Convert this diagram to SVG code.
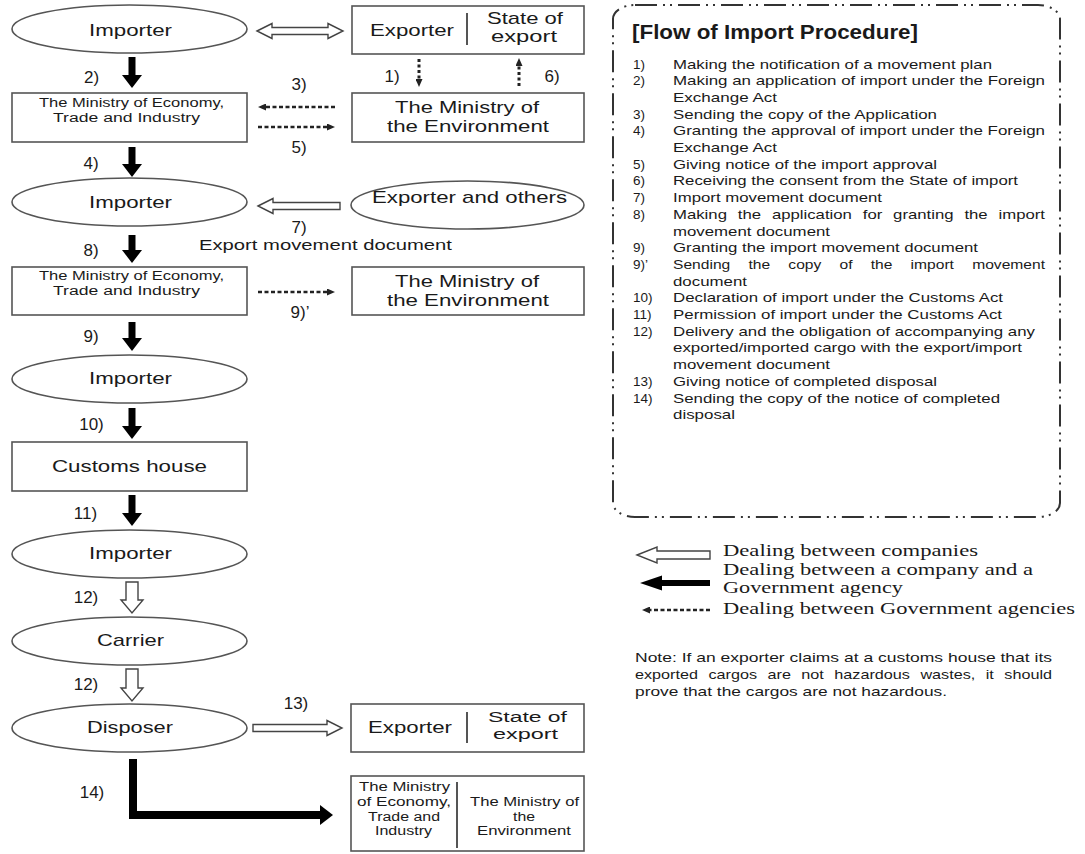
<svg xmlns="http://www.w3.org/2000/svg" width="1085" height="854" viewBox="0 0 1085 854">
<style>
text{font-family:"Liberation Sans",Arial,Helvetica,sans-serif;fill:#1a1a1a}
.c{text-anchor:middle}
.lb{font-size:17px}
.st{font-size:15.5px}
.sm{font-size:12px}
.bx{font-size:12.5px}
.lg{font-size:13.5px}
.ttl{font-size:20px;font-weight:bold}
.ser{font-family:"Liberation Serif","Times New Roman",serif;font-size:16px}
.shape{fill:#fff;stroke:#555;stroke-width:1.6}
.dv{stroke:#555;stroke-width:2}
.blk{stroke:#000;stroke-width:7;fill:none}
.dot{stroke:#222;stroke-width:2.5;stroke-dasharray:4 2.5;fill:none}
.vdot{stroke:#222;stroke-width:3;stroke-dasharray:3 2.5;fill:none}
.hol{fill:#fff;stroke:#444;stroke-width:1.4;stroke-linejoin:miter}
.frame{fill:none;stroke:#333;stroke-width:2;stroke-dasharray:22 6 2 5 2 6}
</style>
<defs>
<marker id="bh" markerUnits="userSpaceOnUse" markerWidth="13" markerHeight="20" viewBox="0 0 13 20" refX="0" refY="10" orient="auto"><path d="M0,0 L13,10 L0,20 Z" fill="#000"/></marker>
<marker id="dh" markerUnits="userSpaceOnUse" markerWidth="8" markerHeight="7" viewBox="0 0 8 7" refX="0" refY="3.5" orient="auto"><path d="M0,0 L8,3.5 L0,7 Z" fill="#222"/></marker>
</defs>

<g id="legend-frame">
<rect class="frame" x="613" y="5" width="447" height="512" rx="22" ry="14"/>
</g>

<g id="importer-1"><ellipse class="shape" cx="129.5" cy="29" rx="117.5" ry="24"/><text class="lb c" x="130.5" y="36" textLength="83" lengthAdjust="spacingAndGlyphs">Importer</text></g>
<g id="exporter-state-1"><rect class="shape" x="352" y="6" width="232" height="48"/><line class="dv" x1="467" y1="13" x2="467" y2="45"/><text class="lb c" x="412" y="36" textLength="84" lengthAdjust="spacingAndGlyphs">Exporter</text><text class="lb c" x="525" y="24" textLength="76" lengthAdjust="spacingAndGlyphs">State of</text><text class="lb c" x="524" y="42" textLength="66" lengthAdjust="spacingAndGlyphs">export</text></g>
<g id="meti-1"><rect class="shape" x="12" y="93" width="235" height="49"/><text class="sm c" x="131.5" y="107" textLength="185" lengthAdjust="spacingAndGlyphs">The Ministry of Economy,</text><text class="sm c" x="126.5" y="122" textLength="147" lengthAdjust="spacingAndGlyphs">Trade and Industry</text></g>
<g id="moe-1"><rect class="shape" x="352" y="93" width="232" height="49"/><text class="lb c" x="467" y="113" textLength="144" lengthAdjust="spacingAndGlyphs">The Ministry of</text><text class="lb c" x="468" y="132" textLength="162" lengthAdjust="spacingAndGlyphs">the Environment</text></g>
<g id="importer-2"><ellipse class="shape" cx="129.5" cy="202" rx="117.5" ry="24"/><text class="lb c" x="130.5" y="208" textLength="83" lengthAdjust="spacingAndGlyphs">Importer</text></g>
<g id="exporter-others"><ellipse class="shape" cx="467.5" cy="205" rx="116.5" ry="24"/><text class="lb c" x="469.5" y="203" textLength="195" lengthAdjust="spacingAndGlyphs">Exporter and others</text></g>
<g id="meti-2"><rect class="shape" x="12" y="267" width="235" height="48"/><text class="sm c" x="131.5" y="280" textLength="185" lengthAdjust="spacingAndGlyphs">The Ministry of Economy,</text><text class="sm c" x="126.5" y="295" textLength="147" lengthAdjust="spacingAndGlyphs">Trade and Industry</text></g>
<g id="moe-2"><rect class="shape" x="352" y="267" width="232" height="48"/><text class="lb c" x="467" y="287" textLength="144" lengthAdjust="spacingAndGlyphs">The Ministry of</text><text class="lb c" x="468" y="306" textLength="162" lengthAdjust="spacingAndGlyphs">the Environment</text></g>
<g id="importer-3"><ellipse class="shape" cx="129.5" cy="379" rx="117.5" ry="24"/><text class="lb c" x="130.5" y="384" textLength="83" lengthAdjust="spacingAndGlyphs">Importer</text></g>
<g id="customs-house"><rect class="shape" x="12" y="442" width="235" height="49"/><text class="lb c" x="129.5" y="472" textLength="155" lengthAdjust="spacingAndGlyphs">Customs house</text></g>
<g id="importer-4"><ellipse class="shape" cx="129.5" cy="554" rx="117.5" ry="24"/><text class="lb c" x="130.5" y="559" textLength="83" lengthAdjust="spacingAndGlyphs">Importer</text></g>
<g id="carrier"><ellipse class="shape" cx="129.5" cy="641" rx="117.5" ry="24"/><text class="lb c" x="130.5" y="646" textLength="67" lengthAdjust="spacingAndGlyphs">Carrier</text></g>
<g id="disposer"><ellipse class="shape" cx="129.5" cy="728" rx="117.5" ry="24"/><text class="lb c" x="130" y="733" textLength="86" lengthAdjust="spacingAndGlyphs">Disposer</text></g>
<g id="exporter-state-2"><rect class="shape" x="351" y="704" width="233" height="48"/><line class="dv" x1="467" y1="712" x2="467" y2="743"/><text class="lb c" x="410" y="733" textLength="84" lengthAdjust="spacingAndGlyphs">Exporter</text><text class="st c" x="527.5" y="722" textLength="79" lengthAdjust="spacingAndGlyphs">State of</text><text class="st c" x="525.5" y="739" textLength="65" lengthAdjust="spacingAndGlyphs">export</text></g>
<g id="meti-moe"><rect class="shape" x="351" y="776" width="233" height="75"/><line class="dv" x1="457" y1="782" x2="457" y2="848"/><text class="bx c" x="404.5" y="791" textLength="91" lengthAdjust="spacingAndGlyphs">The Ministry</text><text class="bx c" x="404" y="806" textLength="94" lengthAdjust="spacingAndGlyphs">of Economy,</text><text class="bx c" x="404" y="821" textLength="72" lengthAdjust="spacingAndGlyphs">Trade and</text><text class="bx c" x="403.5" y="835" textLength="57" lengthAdjust="spacingAndGlyphs">Industry</text><text class="bx c" x="524.5" y="806" textLength="109" lengthAdjust="spacingAndGlyphs">The Ministry of</text><text class="bx c" x="524" y="821" textLength="22" lengthAdjust="spacingAndGlyphs">the</text><text class="bx c" x="524" y="835" textLength="94" lengthAdjust="spacingAndGlyphs">Environment</text></g>

<g id="connectors">
<path class="hol" d="M257,31 L272,23.5 V27.5 H328 V23.5 L343,31 L328,38.5 V34.5 H272 V38.5 Z"/>
<line class="blk" x1="132" y1="57" x2="132" y2="75" marker-end="url(#bh)"/>
<line class="vdot" x1="419" y1="59" x2="419" y2="79" marker-end="url(#dh)"/>
<line class="vdot" x1="519" y1="86" x2="519" y2="66" marker-end="url(#dh)"/>
<line class="dot" x1="335" y1="107" x2="266" y2="107" marker-end="url(#dh)"/>
<line class="dot" x1="258" y1="127" x2="327" y2="127" marker-end="url(#dh)"/>
<line class="blk" x1="132" y1="147" x2="132" y2="164" marker-end="url(#bh)"/>
<path class="hol" d="M258,206 L273,198.5 V202.5 H340 V209.5 H273 V213.5 Z"/>
<line class="blk" x1="132" y1="235" x2="132" y2="250" marker-end="url(#bh)"/>
<line class="dot" x1="258" y1="292" x2="327" y2="292" marker-end="url(#dh)"/>
<line class="blk" x1="132" y1="322" x2="132" y2="338" marker-end="url(#bh)"/>
<line class="blk" x1="132" y1="408" x2="132" y2="426" marker-end="url(#bh)"/>
<line class="blk" x1="132" y1="495" x2="132" y2="513" marker-end="url(#bh)"/>
<path class="hol" d="M126,582 H138 V600 H143 L132,613 L121,600 H126 Z"/>
<path class="hol" d="M126,669 H138 V688 H143 L132,701 L121,688 H126 Z"/>
<path class="hol" d="M253,724.5 H327 V720.5 L342,728 L327,735.5 V731.5 H253 Z"/>
<path d="M133,759 V815 H320" class="blk" stroke-linejoin="miter" marker-end="url(#bh)" style="stroke-width:8"/>
</g>

<g id="connector-labels">
<text class="lb c" x="91.5" y="83">2)</text>
<text class="lb c" x="392" y="82">1)</text>
<text class="lb c" x="552" y="82">6)</text>
<text class="lb c" x="299" y="90">3)</text>
<text class="lb c" x="299" y="153">5)</text>
<text class="lb c" x="91" y="169">4)</text>
<text class="lb c" x="299" y="233">7)</text>
<text class="c" x="325.5" y="250" style="font-size:15px" textLength="253" lengthAdjust="spacingAndGlyphs">Export movement document</text>
<text class="lb c" x="91" y="256">8)</text>
<text class="lb c" x="300" y="318">9)’</text>
<text class="lb c" x="91" y="342">9)</text>
<text class="lb c" x="91.5" y="430">10)</text>
<text class="lb c" x="85.5" y="519">11)</text>
<text class="lb c" x="86" y="603">12)</text>
<text class="lb c" x="86" y="690">12)</text>
<text class="lb c" x="296" y="709">13)</text>
<text class="lb c" x="92" y="798">14)</text>
</g>

<g id="legend-list">
<text class="ttl" x="632" y="39" textLength="286" lengthAdjust="spacingAndGlyphs">[Flow of Import Procedure]</text>
<text class="lg" x="633" y="68.5">1)</text><text class="lg" x="673" y="68.5" textLength="319" lengthAdjust="spacingAndGlyphs">Making the notification of a movement plan</text>
<text class="lg" x="633" y="85.2">2)</text><text class="lg" x="673" y="85.2" textLength="372" lengthAdjust="spacingAndGlyphs">Making an application of import under the Foreign</text>
<text class="lg" x="673" y="101.9" textLength="104" lengthAdjust="spacingAndGlyphs">Exchange Act</text>
<text class="lg" x="633" y="118.6">3)</text><text class="lg" x="673" y="118.6" textLength="264" lengthAdjust="spacingAndGlyphs">Sending the copy of the Application</text>
<text class="lg" x="633" y="135.3">4)</text><text class="lg" x="673" y="135.3" textLength="372" lengthAdjust="spacingAndGlyphs">Granting the approval of import under the Foreign</text>
<text class="lg" x="673" y="152" textLength="104" lengthAdjust="spacingAndGlyphs">Exchange Act</text>
<text class="lg" x="633" y="168.7">5)</text><text class="lg" x="673" y="168.7" textLength="264" lengthAdjust="spacingAndGlyphs">Giving notice of the import approval</text>
<text class="lg" x="633" y="185.4">6)</text><text class="lg" x="673" y="185.4" textLength="345" lengthAdjust="spacingAndGlyphs">Receiving the consent from the State of import</text>
<text class="lg" x="633" y="202.1">7)</text><text class="lg" x="673" y="202.1" textLength="209" lengthAdjust="spacingAndGlyphs">Import movement document</text>
<text class="lg" x="633" y="218.8">8)</text><text class="lg" x="673" y="218.8" word-spacing="5" textLength="372" lengthAdjust="spacingAndGlyphs">Making the application for granting the import</text>
<text class="lg" x="673" y="235.5" textLength="157" lengthAdjust="spacingAndGlyphs">movement document</text>
<text class="lg" x="633" y="252.2">9)</text><text class="lg" x="673" y="252.2" textLength="305" lengthAdjust="spacingAndGlyphs">Granting the import movement document</text>
<text class="lg" x="633" y="268.9">9)’</text><text class="lg" x="673" y="268.9" word-spacing="12" textLength="372" lengthAdjust="spacingAndGlyphs">Sending the copy of the import movement</text>
<text class="lg" x="673" y="285.6" textLength="74" lengthAdjust="spacingAndGlyphs">document</text>
<text class="lg" x="633" y="302.3">10)</text><text class="lg" x="673" y="302.3" textLength="330" lengthAdjust="spacingAndGlyphs">Declaration of import under the Customs Act</text>
<text class="lg" x="633" y="319">11)</text><text class="lg" x="673" y="319" textLength="329" lengthAdjust="spacingAndGlyphs">Permission of import under the Customs Act</text>
<text class="lg" x="633" y="335.7">12)</text><text class="lg" x="673" y="335.7" textLength="362" lengthAdjust="spacingAndGlyphs">Delivery and the obligation of accompanying any</text>
<text class="lg" x="673" y="352.4" textLength="349" lengthAdjust="spacingAndGlyphs">exported/imported cargo with the export/import</text>
<text class="lg" x="673" y="369.1" textLength="157" lengthAdjust="spacingAndGlyphs">movement document</text>
<text class="lg" x="633" y="385.8">13)</text><text class="lg" x="673" y="385.8" textLength="264" lengthAdjust="spacingAndGlyphs">Giving notice of completed disposal</text>
<text class="lg" x="633" y="402.5">14)</text><text class="lg" x="673" y="402.5" textLength="327" lengthAdjust="spacingAndGlyphs">Sending the copy of the notice of completed</text>
<text class="lg" x="673" y="419.2" textLength="62" lengthAdjust="spacingAndGlyphs">disposal</text>
</g>

<g id="legend-key">
<path class="hol" d="M637,555 L657,547 V551 H710 V559 H657 V563 Z"/>
<path d="M640,583 L662,575.5 V580 H710 V586 H662 V590.5 Z" fill="#000"/>
<line class="dot" x1="710" y1="610" x2="650" y2="610" marker-end="url(#dh)"/>
<text class="ser" x="723" y="556" textLength="255" lengthAdjust="spacingAndGlyphs">Dealing between companies</text>
<text class="ser" x="723" y="575" textLength="310" lengthAdjust="spacingAndGlyphs">Dealing between a company and a</text>
<text class="ser" x="723" y="593" textLength="180" lengthAdjust="spacingAndGlyphs">Government agency</text>
<text class="ser" x="723" y="614" textLength="352" lengthAdjust="spacingAndGlyphs">Dealing between Government agencies</text>
</g>

<g id="note">
<text class="lg" x="635" y="662" textLength="417" lengthAdjust="spacingAndGlyphs">Note: If an exporter claims at a customs house that its</text>
<text class="lg" x="635" y="679" word-spacing="5" textLength="417" lengthAdjust="spacingAndGlyphs">exported cargos are not hazardous wastes, it should</text>
<text class="lg" x="635" y="696" textLength="312" lengthAdjust="spacingAndGlyphs">prove that the cargos are not hazardous.</text>
</g>
</svg>
